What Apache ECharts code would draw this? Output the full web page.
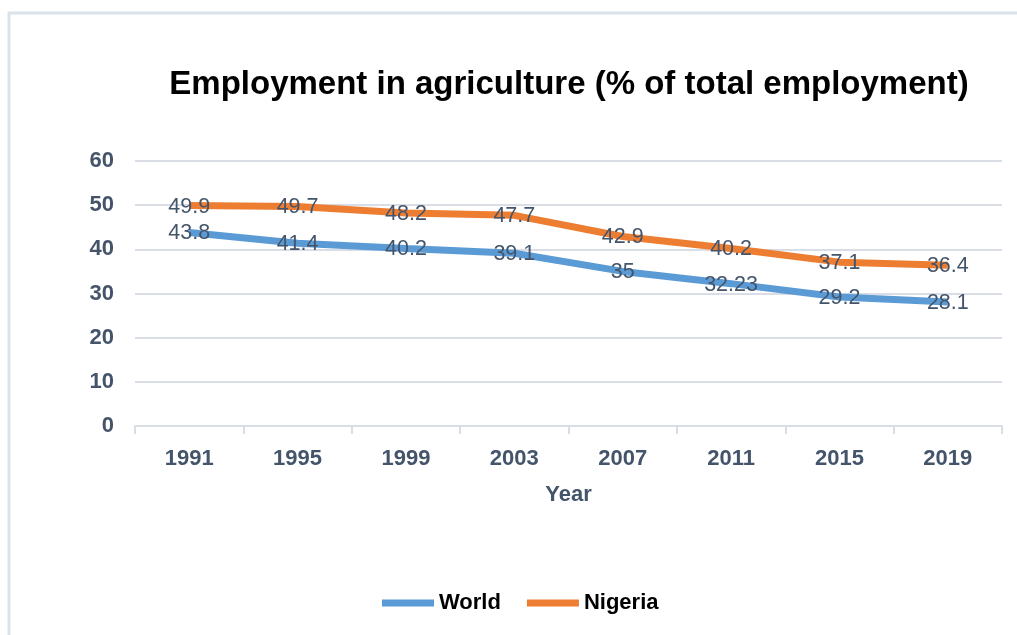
<!DOCTYPE html>
<html>
<head>
<meta charset="utf-8">
<script src="https://cdn.jsdelivr.net/npm/echarts@6/dist/echarts.min.js"></script>
<style>
  html, body { margin: 0; padding: 0; background: #fff; }
  #chart { width: 1017px; height: 635px; }
</style>
</head>
<body>
<div id="chart"></div>
<script>
// Employment in agriculture, share of total employment (%)
const years = ['1991', '1995', '1999', '2003', '2007', '2011', '2015', '2019'];
const world = [43.8, 41.4, 40.2, 39.1, 35, 32.23, 29.2, 28.1];
const nigeria = [49.9, 49.7, 48.2, 47.7, 42.9, 40.2, 37.1, 36.4];
const yTicks = [0, 10, 20, 30, 40, 50, 60];

const worldColor = '#5B9BD5';
const nigeriaColor = '#ED7D31';
const textColor = '#44546A';
const gridColor = '#D9DEE6';
const font = 'Liberation Sans, Arial, sans-serif';

const chart = echarts.init(document.getElementById('chart'));

// value labels sit centred on each data point
const labelStyle = {
  show: true,
  position: 'inside',
  offset: [0, 1],
  color: textColor,
  fontFamily: font,
  fontSize: 21.5
};

chart.setOption({
  animation: false,
  graphic: [{
    type: 'rect',
    shape: { x: 9, y: 13, width: 1030, height: 640 },
    style: { fill: 'none', stroke: '#DCE2EA', lineWidth: 3 },
    silent: true
  }],
  title: {
    text: 'Employment in agriculture (% of total employment)',
    left: 564,
    textAlign: 'center',
    top: 63,
    textStyle: { fontFamily: font, fontWeight: 'bold', fontSize: 33, color: '#000' }
  },
  legend: {
    bottom: 16,
    left: 377,
    itemWidth: 52,
    itemHeight: 7,
    itemGap: 26,
    icon: 'rect',
    textStyle: { fontFamily: font, fontWeight: 'bold', fontSize: 22, color: '#000' },
    data: [
      { name: 'World', itemStyle: { color: worldColor } },
      { name: 'Nigeria', itemStyle: { color: nigeriaColor } }
    ]
  },
  grid: { left: 135, right: 15, top: 161, height: 265, containLabel: false },
  xAxis: {
    type: 'category',
    data: years,
    boundaryGap: true,
    name: 'Year',
    nameLocation: 'middle',
    nameGap: 58,
    nameTextStyle: { fontFamily: font, fontWeight: 'bold', fontSize: 22, color: textColor },
    axisLine: { lineStyle: { color: gridColor, width: 2 } },
    axisTick: { show: true, length: 8, lineStyle: { color: gridColor, width: 2 } },
    axisLabel: { fontFamily: font, fontWeight: 'bold', fontSize: 22, color: textColor, margin: 22 }
  },
  yAxis: {
    type: 'value',
    min: yTicks[0],
    max: yTicks[yTicks.length - 1],
    interval: 10,
    axisLine: { show: false },
    axisTick: { show: false },
    axisLabel: { fontFamily: font, fontWeight: 'bold', fontSize: 22, color: textColor, margin: 21 },
    splitLine: { lineStyle: { color: gridColor, width: 2 } }
  },
  series: [
    {
      name: 'World',
      type: 'line',
      data: world,
      symbol: 'circle',
      symbolSize: 1,
      itemStyle: { color: 'rgba(0,0,0,0)' },
      lineStyle: { width: 7, color: worldColor },
      label: labelStyle,
      z: 2
    },
    {
      name: 'Nigeria',
      type: 'line',
      data: nigeria,
      symbol: 'circle',
      symbolSize: 1,
      itemStyle: { color: 'rgba(0,0,0,0)' },
      lineStyle: { width: 7, color: nigeriaColor },
      label: labelStyle,
      z: 2
    }
  ]
});
</script>
</body>
</html>
